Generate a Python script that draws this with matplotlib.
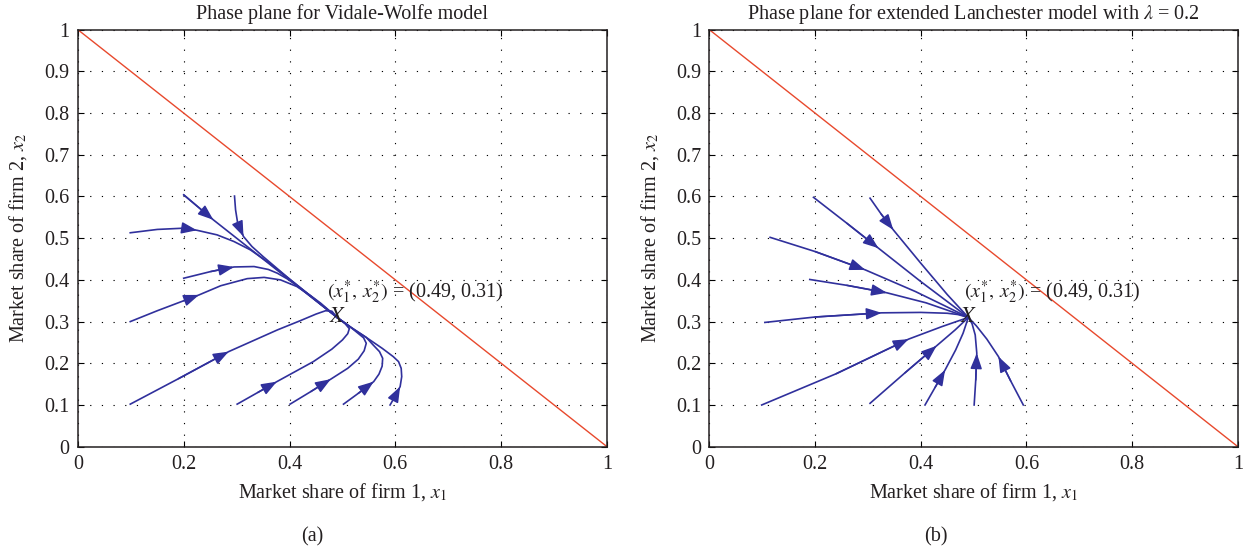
import matplotlib
matplotlib.use("Agg")
import matplotlib.pyplot as plt

plt.rcParams["font.family"] = ["Liberation Serif", "DejaVu Serif"]
plt.rcParams["mathtext.fontset"] = "stix"

# Equilibrium market shares (x1*, x2*)
EQ = (0.49, 0.31)

# Constraint x1 + x2 = 1
share_line_x = [0.0, 1.0]
share_line_y = [1.0, 0.0]

x_ticks = [0, 0.2, 0.4, 0.6, 0.8, 1]
x_tick_labels = ["0", "0.2", "0.4", "0.6", "0.8", "1"]
y_ticks = [0, 0.1, 0.2, 0.3, 0.4, 0.5, 0.6, 0.7, 0.8, 0.9, 1]
y_tick_labels = ["0", "0.1", "0.2", "0.3", "0.4", "0.5", "0.6", "0.7", "0.8", "0.9", "1"]

# Vidale-Wolfe trajectories (each ends at the equilibrium)
vw_paths = [
    [(0.200, 0.604), (0.256, 0.544), (0.300, 0.500), (0.350, 0.450), (0.400, 0.400), (0.450, 0.350)],
    [(0.296, 0.601), (0.298, 0.568), (0.302, 0.536), (0.313, 0.504), (0.329, 0.480), (0.350, 0.456),
     (0.400, 0.402), (0.450, 0.351)],
    [(0.099, 0.513), (0.150, 0.521), (0.200, 0.524), (0.225, 0.519), (0.263, 0.508), (0.295, 0.492),
     (0.326, 0.472), (0.360, 0.442), (0.400, 0.402), (0.450, 0.351)],
    [(0.200, 0.404), (0.251, 0.420), (0.295, 0.431), (0.333, 0.432), (0.360, 0.425), (0.377, 0.416),
     (0.395, 0.403), (0.410, 0.390), (0.450, 0.350)],
    [(0.099, 0.300), (0.150, 0.326), (0.200, 0.350), (0.229, 0.364), (0.270, 0.386), (0.320, 0.403),
     (0.352, 0.406), (0.383, 0.400), (0.414, 0.384), (0.440, 0.362), (0.459, 0.344)],
    [(0.099, 0.102), (0.190, 0.163), (0.285, 0.228), (0.377, 0.280), (0.420, 0.302), (0.450, 0.318),
     (0.468, 0.326), (0.480, 0.325)],
    [(0.301, 0.102), (0.340, 0.130), (0.376, 0.156), (0.445, 0.204), (0.480, 0.234), (0.500, 0.256),
     (0.510, 0.271), (0.513, 0.283), (0.505, 0.295)],
    [(0.401, 0.102), (0.440, 0.132), (0.478, 0.162), (0.510, 0.188), (0.530, 0.210), (0.541, 0.230),
     (0.545, 0.248), (0.540, 0.261), (0.515, 0.287)],
    [(0.502, 0.102), (0.530, 0.128), (0.559, 0.156), (0.569, 0.174), (0.575, 0.193), (0.576, 0.212),
     (0.570, 0.228), (0.558, 0.244), (0.545, 0.262), (0.515, 0.287)],
    [(0.590, 0.100), (0.600, 0.122), (0.609, 0.144), (0.612, 0.168), (0.611, 0.188), (0.606, 0.204),
     (0.596, 0.216), (0.575, 0.236), (0.545, 0.262), (0.515, 0.287)],
]
vw_arrow_idx = [1, 3, 3, 2, 3, 2, 2, 2, 2, 2]

# Extended Lanchester trajectories, lambda = 0.2
el_paths = [
    [(0.197, 0.598), (0.260, 0.536), (0.320, 0.476), (0.400, 0.396)],
    [(0.304, 0.596), (0.325, 0.558), (0.348, 0.520), (0.400, 0.440), (0.450, 0.365)],
    [(0.115, 0.502), (0.200, 0.468), (0.295, 0.424), (0.390, 0.372), (0.450, 0.335)],
    [(0.190, 0.401), (0.260, 0.387), (0.336, 0.369), (0.410, 0.345)],
    [(0.105, 0.298), (0.200, 0.311), (0.326, 0.321), (0.400, 0.322), (0.450, 0.320), (0.470, 0.317)],
    [(0.099, 0.100), (0.240, 0.175), (0.377, 0.258), (0.440, 0.288)],
    [(0.304, 0.104), (0.370, 0.177), (0.430, 0.242), (0.465, 0.280)],
    [(0.408, 0.100), (0.427, 0.142), (0.446, 0.184), (0.466, 0.232), (0.480, 0.272)],
    [(0.501, 0.100), (0.504, 0.160), (0.506, 0.224), (0.503, 0.268), (0.497, 0.295)],
    [(0.594, 0.100), (0.570, 0.158), (0.547, 0.216), (0.525, 0.258), (0.505, 0.290)],
]
el_arrow_idx = [2, 2, 2, 2, 2, 2, 2, 2, 2, 2]

TRAJ_COLOR = "#30309c"
LINE_COLOR = "#e8492d"
TEXT_COLOR = "#231f20"
FS = 14.5

fig = plt.figure(figsize=(12.48, 5.54), dpi=100)
ax_a = fig.add_axes([0.0624, 0.1937, 0.4240, 0.7527])
ax_b = fig.add_axes([0.5684, 0.1937, 0.4235, 0.7527])


def draw_panel(ax, paths, arrow_idx, title, label_x):
    ax.set_xlim(0, 1)
    ax.set_ylim(0, 1)
    ax.set_xticks(x_ticks)
    ax.set_xticklabels(x_tick_labels)
    ax.set_yticks(y_ticks)
    ax.set_yticklabels(y_tick_labels)
    ax.grid(True, color="k", linestyle=(0, (1.1, 9.4)), lw=0.8)
    ax.tick_params(direction="in", length=4, width=0.8, top=True, right=True,
                   labelsize=FS, pad=6, labelcolor=TEXT_COLOR)
    for sp in ax.spines.values():
        sp.set_linewidth(1.1)
        sp.set_color(TEXT_COLOR)

    ax.plot(share_line_x, share_line_y, color=LINE_COLOR, lw=1.0)

    for pts, k in zip(paths, arrow_idx):
        full = list(pts) + [EQ]
        xs = [p[0] for p in full]
        ys = [p[1] for p in full]
        ax.plot(xs, ys, color=TRAJ_COLOR, lw=1.2, solid_joinstyle="round")
        ax.annotate("", xy=full[k], xytext=full[k - 1],
                    arrowprops=dict(arrowstyle="-|>,head_length=0.85,head_width=0.32",
                                    mutation_scale=11, lw=1.1, color=TRAJ_COLOR,
                                    shrinkA=0, shrinkB=0))

    ax.text(EQ[0], EQ[1], r"$X$", fontsize=16, ha="center", va="center", color=TEXT_COLOR)
    ax.text(label_x, EQ[1] + 0.06,
            r"$(x_1^{*},\, x_2^{*})$" + f" = ({EQ[0]}, {EQ[1]})",
            fontsize=FS, ha="left", va="center", color=TEXT_COLOR)

    ax.set_title(title, fontsize=FS, pad=8, color=TEXT_COLOR)
    ax.set_xlabel(r"Market share of firm 1, $x_1$", fontsize=FS, color=TEXT_COLOR)
    ax.set_ylabel(r"Market share of firm 2, $x_2$", fontsize=FS, color=TEXT_COLOR)
    ax.xaxis.set_label_coords(0.5, -0.108)
    ax.xaxis.label.set_verticalalignment("center")
    ax.yaxis.set_label_coords(-0.113, 0.5)
    ax.yaxis.label.set_verticalalignment("center")


draw_panel(ax_a, vw_paths, vw_arrow_idx, "Phase plane for Vidale-Wolfe model", 0.471)
draw_panel(ax_b, el_paths, el_arrow_idx,
           r"Phase plane for extended Lanchester model with $\lambda$ = 0.2", 0.481)

fig.text(0.25, 0.031, "(a)", fontsize=FS, ha="center", va="center", color=TEXT_COLOR)
fig.text(0.75, 0.031, "(b)", fontsize=FS, ha="center", va="center", color=TEXT_COLOR)

fig.savefig("out.png", dpi=100)
